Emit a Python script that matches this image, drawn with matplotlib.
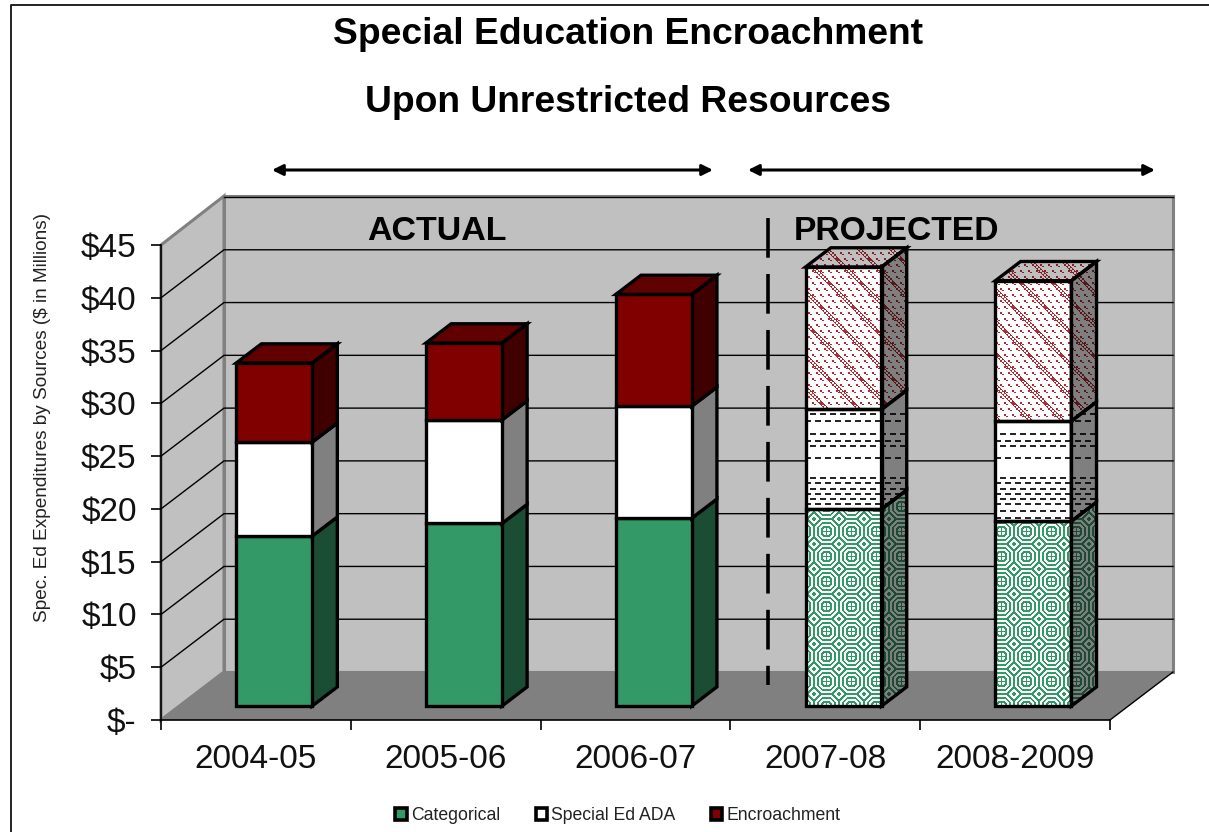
import numpy as np
import matplotlib
matplotlib.use('Agg')
import matplotlib.pyplot as plt
from matplotlib.lines import Line2D
from matplotlib.patches import Patch, Polygon

plt.rcParams['font.family'] = ['Liberation Sans', 'DejaVu Sans']

W, H = 1209, 832

YEARS = ['2004-05', '2005-06', '2006-07', '2007-08', '2008-2009']
SERIES = ['Categorical', 'Special Ed ADA', 'Encroachment']
CATEGORICAL = [16.1, 17.3, 17.8, 18.65, 17.5]
SPECIAL_ED = [8.9, 9.8, 10.6, 9.45, 9.5]
ENCROACHMENT = [7.5, 7.3, 10.6, 13.5, 13.3]
Y_TICKS = [0, 5, 10, 15, 20, 25, 30, 35, 40, 45]
Y_LABELS = ['$-', '$5', '$10', '$15', '$20', '$25', '$30', '$35', '$40', '$45']
PROJECTED = [False, False, False, True, True]

GREEN = np.array([0x33, 0x99, 0x66]) / 255
MAROON = np.array([0x80, 0x00, 0x00]) / 255
WHITE = np.array([1.0, 1.0, 1.0])
COLORS = [GREEN, WHITE, MAROON]

# depth of the fake 3d box, in category and dollar units
DX = 63 / 189.8
DY = 48 / (475 / 45)
BAR_W = 0.4
D0, D1 = 0.29, 0.69
SIDE_SHADE, TOP_SHADE = 0.5, 0.75
EDGE = 2.4


def px(x, y):
    return x / W, 1 - y / H


def green_mask(xx, yy):
    # octagon rings repeated on a square lattice
    x = (xx + 11) % 25 - 12
    y = (yy + 6) % 25 - 12
    ax_, ay_ = np.abs(x), np.abs(y)
    d = np.maximum(np.maximum(ax_, ay_), (ax_ + ay_) * 0.72)
    rings = (np.floor(d).astype(int) % 4) < 2
    core = (ax_ == 0) | (ay_ == 0) | (d >= 4)
    return np.where(d < 5, core, rings)


def red_mask(xx, yy):
    u = (xx + 4 * ((yy // 6) % 2)) % 8
    v = yy % 6
    dots = (u < 2) & (v < 2) | ((u >= 2) & (u < 4) & (v >= 2) & (v < 3))
    lines = np.isin((xx - yy) % 32, [0, 1, 3, 4]) & ((xx + yy) % 4 < 3)
    return dots | lines


def dash_mask(xx, yy):
    rows = [413, 420, 433, 440, 445, 457, 477, 482, 488, 493, 498, 503, 510, 517]
    mask = np.zeros(xx.shape, dtype=bool)
    for i, r in enumerate(rows):
        on_row = (yy >= r) & (yy < r + 2)
        mask |= on_row & ((xx + 5 * (i % 2)) % 10 < 6)
    return mask


yy, xx = np.indices((H, W))
MASKS = [green_mask(xx, yy), dash_mask(xx, yy), red_mask(xx, yy)]
INK = [GREEN, np.array([0.15, 0.15, 0.15]), np.array([0.68, 0.17, 0.2])]


def texture(idx, shade):
    img = np.ones((H, W, 3))
    img[MASKS[idx]] = INK[idx]
    return img * shade


fig = plt.figure(figsize=(W / 100, H / 100), dpi=100, facecolor='white')
ax = fig.add_axes([161 / W, (H - 720) / H, 949 / W, 475 / H], facecolor='none')
ax.set_xlim(0, 5)
ax.set_ylim(0, 45)

# walls and floor
WALL_TOP = 45 + 49 / (475 / 45)
ax.add_patch(Polygon([(DX, DY), (5 + DX, DY), (5 + DX, WALL_TOP), (DX, WALL_TOP)], closed=True,
                     fc='#c0c0c0', ec='#808080', lw=2.2, clip_on=False, zorder=1))
ax.add_patch(Polygon([(0, 0), (DX, DY), (DX, WALL_TOP), (0, 45)], closed=True,
                     fc='#c0c0c0', ec='#808080', lw=2.2, clip_on=False, zorder=1))
ax.add_patch(Polygon([(0, 0), (5, 0), (5 + DX, DY), (DX, DY)], closed=True,
                     fc='#808080', ec='none', clip_on=False, zorder=1.2))
ax.plot([5, 5 + DX], [0, DY], color='k', lw=1, clip_on=False, zorder=1.3)

# gridlines run along the side wall then across the back
for v in Y_TICKS[1:-1]:
    ax.plot([0, DX, 5 + DX], [v, v + DY, v + DY], color='k', lw=1, clip_on=False, zorder=1.3)
ax.plot([DX, 5 + DX], [45 + DY, 45 + DY], color='k', lw=1, clip_on=False, zorder=1.3)


def face(pts, idx, shade, textured):
    poly = Polygon(pts, closed=True, fc=COLORS[idx] * shade, ec='k', lw=EDGE,
                   joinstyle='miter', clip_on=False, zorder=3)
    if textured:
        poly.set_facecolor('none')
        corner = ax.transData.inverted().transform([(0, 0), (W, H)])
        im = ax.imshow(texture(idx, shade), extent=(corner[0][0], corner[1][0], corner[0][1], corner[1][1]),
                       origin='upper', aspect='auto', interpolation='nearest', zorder=2.9)
        im.set_clip_box(fig.bbox)
        im.set_clip_path(Polygon(pts, closed=True, transform=ax.transData))
    ax.add_patch(poly)


# stacked boxes, left to right and bottom to top
values = np.array([CATEGORICAL, SPECIAL_ED, ENCROACHMENT])
for i in range(len(YEARS)):
    left = i + 0.5 - BAR_W / 2 + D0 * DX
    right = left + BAR_W
    ddx = (D1 - D0) * DX
    ddy = (D1 - D0) * DY
    # the y origin of the box front sits part way into the floor
    bottom = D0 * DY
    for j in range(3):
        top = bottom + values[j, i]
        face([(right, bottom), (right + ddx, bottom + ddy), (right + ddx, top + ddy), (right, top)],
             j, SIDE_SHADE, PROJECTED[i])
        face([(left, bottom), (right, bottom), (right, top), (left, top)], j, 1.0, PROJECTED[i])
        if j == 2:
            face([(left, top), (right, top), (right + ddx, top + ddy), (left + ddx, top + ddy)],
                 j, TOP_SHADE, PROJECTED[i])
        bottom = top

ax.set_xlim(0, 5)
ax.set_ylim(0, 45)

# axes and tick labels
for s in ['top', 'right']:
    ax.spines[s].set_visible(False)
for s in ['left', 'bottom']:
    ax.spines[s].set_linewidth(1.2)
    ax.spines[s].set_zorder(4)
ax.set_yticks(Y_TICKS)
ax.set_yticklabels(Y_LABELS, fontsize=24, color='#111111')
ax.set_xticks(range(6))
ax.set_xticklabels([])
ax.set_xticks(np.arange(5) + 0.5, YEARS, minor=True, fontsize=24, color='#111111')
ax.tick_params(axis='x', which='minor', length=0, pad=17)
ax.tick_params(axis='both', which='major', length=7.5, width=1.2)
ax.tick_params(axis='y', which='major', pad=10)

fig.text(*px(43, 417), 'Spec. Ed Expenditures by Sources ($ in Millions)', rotation=90,
         ha='center', va='center', fontsize=13.7, color='#222222')

fig.text(*px(628, 35), 'Special Education Encroachment', ha='center', va='center',
         fontsize=26.8, fontweight='bold')
fig.text(*px(628, 102), 'Upon Unrestricted Resources', ha='center', va='center',
         fontsize=26.8, fontweight='bold')
fig.text(*px(437, 232), 'ACTUAL', ha='center', va='center', fontsize=24.5, fontweight='bold')
fig.text(*px(897, 232), 'PROJECTED', ha='center', va='center', fontsize=24.2, fontweight='bold')

# period arrows and divider
for x0, x1 in [(272, 713), (748, 1155)]:
    ax.annotate('', xy=px(x1, 170), xytext=px(x0, 170), xycoords='figure fraction',
                textcoords='figure fraction',
                arrowprops=dict(arrowstyle='<|-|>', color='k', lw=2.2, shrinkA=0, shrinkB=0,
                                mutation_scale=16))
fig.add_artist(Line2D([768 / W, 768 / W], [1 - 218 / H, 1 - 685 / H], color='k', lw=2.6,
                      linestyle=(0, (11, 4.5))))

handles = [Patch(fc=c, ec='k', lw=2.6) for c in COLORS]
fig.legend(handles, SERIES, loc='center', bbox_to_anchor=px(618, 816), ncol=3, frameon=False,
           fontsize=12.7, handlelength=0.65, handleheight=0.65, handletextpad=0.25,
           columnspacing=2.0, labelcolor='#222222', borderpad=0)

# outer frame only shows on the left and top
fig.add_artist(Line2D([11 / W, 11 / W, 1], [0, 1 - 5 / H, 1 - 5 / H], color='#222222', lw=1.4))

fig.savefig('out.png', dpi=100)
